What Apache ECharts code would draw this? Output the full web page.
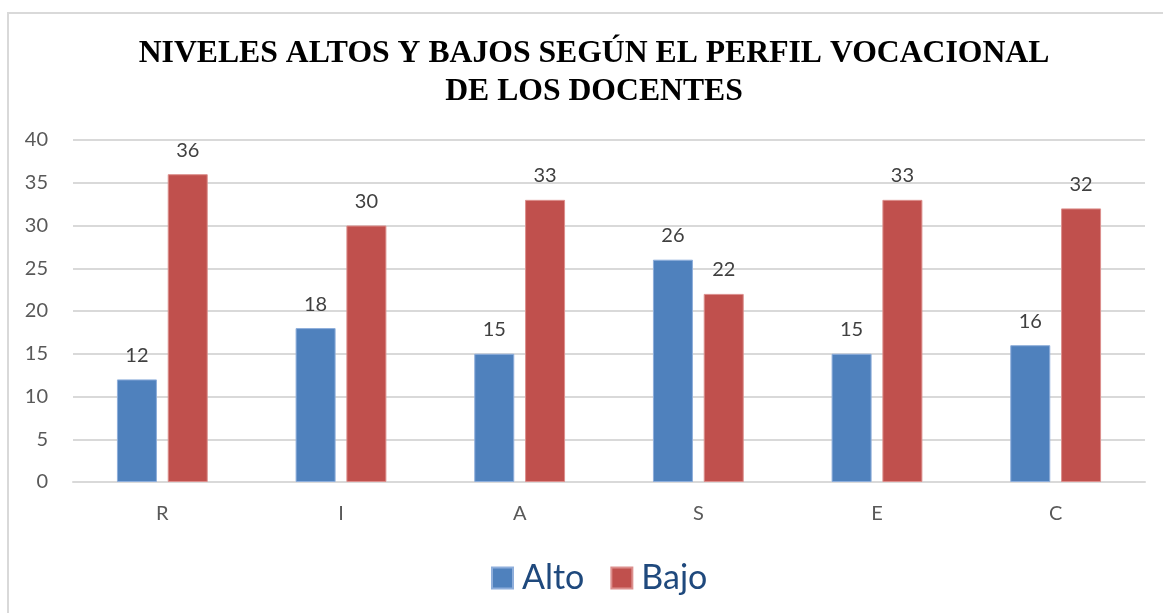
<!DOCTYPE html>
<html>
<head>
<meta charset="utf-8">
<script src="https://cdn.jsdelivr.net/npm/echarts@6/dist/echarts.min.js"></script>
<style>
  html, body { margin: 0; padding: 0; background: #fff; }
  #chart { width: 1163px; height: 613px; }
</style>
</head>
<body>
<div id="chart"></div>
<script>
var categories = ['R', 'I', 'A', 'S', 'E', 'C'];
var alto = [12, 18, 15, 26, 15, 16];
var bajo = [36, 30, 33, 22, 33, 32];
var yTicks = { min: 0, max: 40, interval: 5 };

var myChart = echarts.init(document.getElementById('chart'));
var labelFont = 'Lato, "Liberation Sans", sans-serif';

myChart.setOption({
    animation: false,
    title: {
        text: 'NIVELES ALTOS Y BAJOS SEGÚN EL PERFIL VOCACIONAL\nDE LOS DOCENTES',
        left: 589,
        textAlign: 'center',
        top: 30,
        textStyle: {
            fontFamily: '"Liberation Serif", "Times New Roman", serif',
            fontWeight: 'bold',
            fontSize: 31.7,
            lineHeight: 38,
            color: '#000'
        }
    },
    // marco del gráfico
    graphic: [{
        type: 'rect',
        shape: { x: 8, y: 13, width: 1200, height: 700 },
        style: { fill: 'none', stroke: '#d9d9d9', lineWidth: 2 },
        silent: true
    }],
    legend: {
        data: ['Alto', 'Bajo'],
        left: 486,
        top: 556,
        itemWidth: 21,
        itemHeight: 21,
        itemGap: 26,
        icon: 'rect',
        textStyle: { fontFamily: labelFont, fontSize: 34, color: '#1f497d', padding: [0, 0, 0, 4] }
    },
    grid: { left: 73, right: 18, top: 140, bottom: 131 },
    xAxis: {
        type: 'category',
        data: categories,
        axisLine: { lineStyle: { color: '#d9d9d9', width: 2 } },
        axisTick: { show: false },
        axisLabel: { fontFamily: labelFont, fontSize: 20, color: '#595959', margin: 22 }
    },
    yAxis: {
        type: 'value',
        min: yTicks.min,
        max: yTicks.max,
        interval: yTicks.interval,
        axisLine: { show: false },
        axisTick: { show: false },
        splitLine: { lineStyle: { color: '#d9d9d9', width: 2 } },
        axisLabel: { fontFamily: labelFont, fontSize: 20, color: '#595959', margin: 25 }
    },
    series: [{
        name: 'Alto',
        type: 'bar',
        data: alto,
        barWidth: 40,
        barGap: '27%',
        itemStyle: { color: '#4f81bd', borderColor: '#8eaedb', borderWidth: 1 },
        label: { show: true, position: 'top', distance: 14, fontFamily: labelFont, fontSize: 20, color: '#404040' }
    }, {
        name: 'Bajo',
        type: 'bar',
        data: bajo,
        barWidth: 40,
        itemStyle: { color: '#c0504d', borderColor: '#dc8f8d', borderWidth: 1 },
        label: { show: true, position: 'top', distance: 14, fontFamily: labelFont, fontSize: 20, color: '#404040' }
    }]
});
</script>
</body>
</html>
